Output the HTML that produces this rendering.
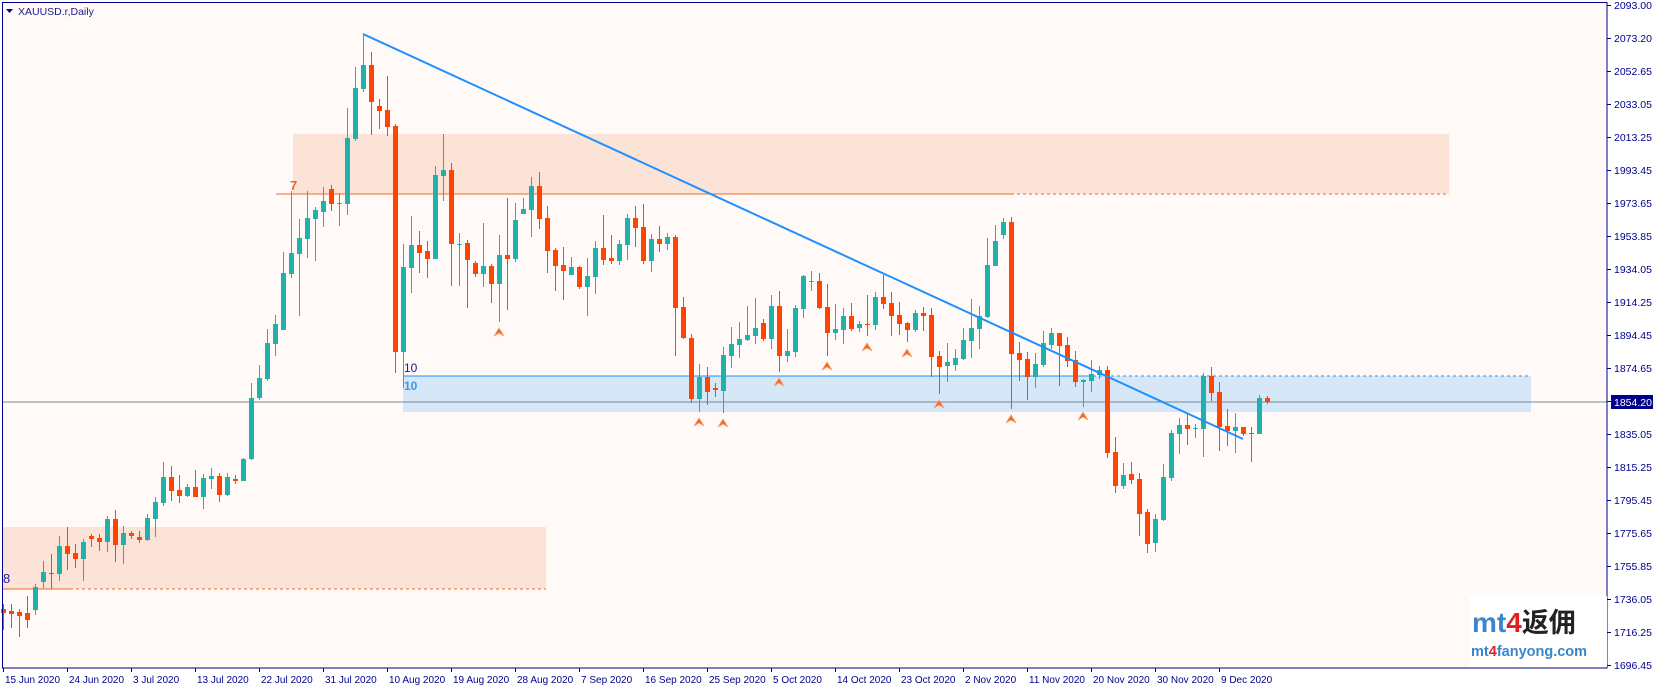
<!DOCTYPE html>
<html><head><meta charset="utf-8"><style>
html,body{margin:0;padding:0;background:#fff;}
svg{display:block;font-family:"Liberation Sans",sans-serif;}
</style></head><body>
<svg id="c" width="1653" height="689" xmlns="http://www.w3.org/2000/svg">
<rect x="0" y="0" width="1653" height="689" fill="#ffffff"/>
<rect x="2" y="2" width="1605" height="666" fill="#fffaf8"/>
<!-- upper orange zone -->
<rect x="293" y="134" width="1156" height="60" fill="#fbe3d8"/>
<line x1="276" y1="194" x2="1011" y2="194" stroke="#f4661f" stroke-width="1"/>
<line x1="1011" y1="194" x2="1449" y2="194" stroke="#f4661f" stroke-width="1" stroke-dasharray="3,3"/>
<!-- lower orange zone -->
<rect x="2" y="527" width="544" height="62" fill="#fbe3d8"/>
<line x1="2" y1="589" x2="70" y2="589" stroke="#f4661f"/>
<line x1="70" y1="589" x2="546" y2="589" stroke="#f4661f" stroke-dasharray="3,3"/>
<!-- blue zone -->
<rect x="403" y="376" width="1128" height="36" fill="#d6e8f7"/>
<line x1="403" y1="376" x2="1087" y2="376" stroke="#1e90ff"/>
<line x1="1087" y1="376" x2="1531" y2="376" stroke="#1e90ff" stroke-dasharray="3,3"/>
<!-- price line -->
<line x1="2" y1="402" x2="1607" y2="402" stroke="#778899" stroke-width="1"/>
<g id="candles"></g>
<!-- trend line -->
<line x1="363" y1="34" x2="1243" y2="439" stroke="#1e90ff" stroke-width="2"/>
<g id="arrows"></g>
<text x="3" y="583" font-size="13" fill="#2020a0">8</text>
<text x="290" y="190" font-size="13" fill="#f4661f" font-weight="bold">7</text>
<text x="404" y="372" font-size="12" fill="#1a1a8c">10</text>
<text x="404" y="390" font-size="12" fill="#3b9ae0" font-weight="bold">10</text>
<!-- frame -->
<rect x="2.5" y="2.5" width="1604.5" height="665.5" fill="none" stroke="#00008b" stroke-width="1"/>
<polygon points="6,9 13,9 9.5,13" fill="#00008b"/>
<text x="18" y="15" font-size="10.5" fill="#1a1a8c">XAUUSD.r,Daily</text>
<g id="axis" font-size="10.5" fill="#00008b"></g>
<!-- logo -->
<rect x="1469" y="596" width="138" height="71" fill="#ffffff"/>
<text x="1472" y="632" font-size="28" font-weight="bold" fill="#3a86c8" font-family="Liberation Sans,sans-serif">mt<tspan fill="#e02020">4</tspan><tspan fill="#222" font-family="Noto Sans CJK SC,sans-serif" font-size="27">返佣</tspan></text>
<text x="1471" y="656" font-size="14.5" font-weight="bold" fill="#3a86c8">mt<tspan fill="#e02020">4</tspan>fanyong.com</text>
<rect x="1611" y="395" width="42" height="14" fill="#00008b"/>
<text x="1614" y="406" font-size="10.5" fill="#ffffff">1854.20</text>
</svg>
<script>
var NS="http://www.w3.org/2000/svg";
var D=`3 r 609 613 604 630
11 r 611 614 604 628
19 r 612 616 609 637
27 r 613 620 596 628
35 t 587 610 584 615
43 t 572 582 561 588
51 r 573 574 554 589
59 t 546 574 536 581
67 r 546 554 527 570
75 r 553 559 544 568
83 t 542 559 539 581
91 r 536 539 534 547
99 r 538 542 534 551
107 t 519 542 516 552
115 r 519 545 510 562
123 t 533 545 526 564
131 r 533 536 531 539
139 r 537 540 531 543
147 t 518 540 514 541
155 t 502 519 497 537
163 t 477 503 462 506
171 r 477 491 466 501
179 r 490 496 475 503
187 t 487 496 484 497
195 r 487 497 470 497
203 t 478 497 474 509
211 t 476 479 468 489
219 r 476 495 473 502
227 t 477 495 473 496
235 r 479 481 475 484
243 t 459 481 458 481
251 t 398 459 383 460
259 t 378 398 365 400
267 t 343 379 329 381
275 t 324 344 315 356
283 t 273 330 252 330
291 t 253 274 191 278
299 t 238 254 219 316
307 t 218 239 191 258
315 t 210 219 207 261
323 t 201 212 187 227
331 r 189 204 185 211
339 t 203 204 193 226
347 t 138 204 108 215
355 t 88 139 67 141
363 t 65 89 35 92
371 r 65 102 52 135
379 r 106 111 99 129
387 r 110 127 76 136
395 r 126 352 124 373
403 t 267 352 244 388
411 t 245 268 216 293
419 r 245 253 231 273
427 r 251 259 241 278
435 t 175 259 166 259
443 t 170 176 134 201
451 r 170 244 163 286
459 t 244 245 233 286
467 r 243 260 240 308
475 r 263 274 261 277
483 t 266 274 223 287
491 r 266 284 264 303
499 t 255 284 235 322
507 r 255 259 198 310
515 t 220 259 203 262
523 t 209 214 198 214
531 t 186 210 177 237
539 r 186 219 172 229
547 r 218 251 206 273
555 r 250 266 248 291
563 r 265 271 247 300
571 t 267 275 257 275
579 r 267 287 266 289
587 t 276 287 258 316
595 t 248 277 241 294
603 r 248 260 215 265
611 r 258 261 235 264
619 t 244 261 240 265
627 t 218 245 214 260
635 r 218 228 206 247
643 r 227 261 204 264
651 t 239 261 234 272
659 r 239 244 226 252
667 t 237 244 233 250
675 r 237 308 235 356
683 r 307 338 297 339
691 r 338 399 334 403
699 t 377 399 364 412
707 r 377 392 367 405
715 r 388 390 383 397
723 t 355 391 347 413
731 t 344 356 327 368
739 t 339 345 322 358
747 t 335 340 306 341
755 t 328 336 298 344
763 r 323 339 319 341
771 t 306 339 295 349
779 r 306 356 291 372
787 t 351 356 329 362
795 t 308 352 305 357
803 t 276 309 275 318
811 t 281 282 271 291
819 r 281 308 273 309
827 r 307 333 284 356
835 t 329 333 304 340
843 t 316 330 308 344
851 r 316 329 303 331
859 t 324 328 321 332
867 r 324 325 295 336
875 t 297 325 292 330
883 r 297 304 275 309
891 r 303 316 292 336
899 r 315 324 302 335
907 r 323 330 322 342
915 t 313 330 310 332
923 r 313 316 307 331
931 r 315 357 308 377
939 r 356 367 351 394
947 t 362 366 343 382
955 t 358 365 349 371
963 t 340 359 328 360
971 t 328 341 299 358
979 t 316 329 306 349
987 t 265 317 238 318
995 t 241 266 225 266
1003 t 222 235 218 239
1011 r 222 354 217 409
1019 r 353 360 342 381
1027 r 359 377 352 400
1035 t 364 377 353 388
1043 t 343 365 331 367
1051 t 333 345 328 349
1059 r 333 346 333 386
1067 r 345 361 337 367
1075 r 360 382 351 387
1083 t 380 382 379 407
1091 t 374 381 360 392
1099 t 370 375 366 379
1107 r 370 453 366 458
1115 r 452 486 437 493
1123 t 475 486 463 489
1131 r 474 480 462 484
1139 r 479 514 473 536
1147 r 512 544 509 553
1155 t 519 543 514 552
1163 t 477 520 464 521
1171 t 433 478 430 481
1179 t 425 434 418 454
1187 r 425 429 414 445
1195 t 428 429 424 438
1203 t 376 429 373 457
1211 r 376 393 367 401
1219 r 392 427 382 451
1227 r 426 431 409 446
1235 t 427 431 413 453
1243 r 427 434 427 436
1251 r 433 434 427 462
1259 t 398 434 395 434
1267 r 398 402 396 404`;
var g=document.getElementById("candles"),h="";
D.split("\n").forEach(function(l){var p=l.trim().split(/\s+/);var x=+p[0],c=p[1]=="t"?"#20b2aa":"#ff4500",a=+p[2],b=+p[3],hi=+p[4],lo=+p[5];
h+='<rect x="'+x+'" y="'+hi+'" width="1" height="'+Math.max(1,lo-hi)+'" fill="'+c+'"/>';
h+='<rect x="'+(x-2)+'" y="'+a+'" width="5" height="'+Math.max(1,b-a)+'" fill="'+c+'"/>';});
g.innerHTML=h;
var A=[[499,328],[699,418],[723,419],[779,378],[827,362],[867,343],[907,349],[939,400],[1011,415],[1083,412]],ah="";
A.forEach(function(q){var x=q[0],y=q[1];ah+='<polygon points="'+x+','+y+' '+(x+5)+','+(y+8)+' '+x+','+(y+5)+' '+(x-5)+','+(y+8)+'" fill="#f4661f" stroke="#f8a070" stroke-width="0.8"/>';});
document.getElementById("arrows").innerHTML=ah;
var L=["2093.00","2073.20","2052.65","2033.05","2013.25","1993.45","1973.65","1953.85","1934.05","1914.25","1894.45","1874.65","","1835.05","1815.25","1795.45","1775.65","1755.85","1736.05","1716.25","1696.45"],xh="";
L.forEach(function(t,i){var y=5+33*i;xh+='<rect x="1607" y="'+y+'" width="4" height="1"/>';if(t)xh+='<text x="1614" y="'+(y+4)+'">'+t+'</text>';});
var T=["15 Jun 2020","24 Jun 2020","3 Jul 2020","13 Jul 2020","22 Jul 2020","31 Jul 2020","10 Aug 2020","19 Aug 2020","28 Aug 2020","7 Sep 2020","16 Sep 2020","25 Sep 2020","5 Oct 2020","14 Oct 2020","23 Oct 2020","2 Nov 2020","11 Nov 2020","20 Nov 2020","30 Nov 2020","9 Dec 2020"];
T.forEach(function(t,i){var x=3+64*i;xh+='<rect x="'+x+'" y="668" width="1" height="4"/><text x="'+(x+2)+'" y="683" font-size="10">'+t+'</text>';});
document.getElementById("axis").innerHTML=xh;
</script>
</body></html>
